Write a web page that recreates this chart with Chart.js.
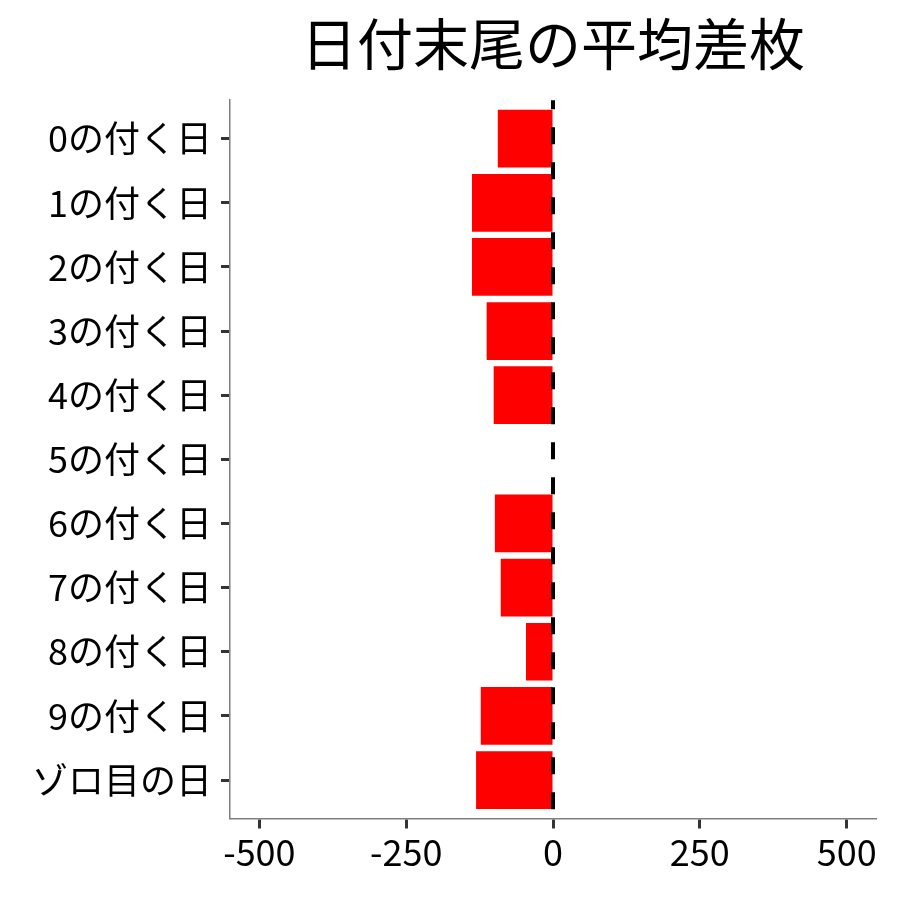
<!DOCTYPE html>
<html>
<head>
<meta charset="utf-8">
<script src="https://cdn.jsdelivr.net/npm/chart.js@4.4.0/dist/chart.umd.min.js"></script>
<style>
  html, body { margin: 0; padding: 0; background: #ffffff; }
  #wrap { width: 900px; height: 900px; }
</style>
</head>
<body>
<div id="wrap"><canvas id="chart" width="900" height="900"></canvas></div>
<script>
// Data
var titleText = '日付末尾の平均差枚';
var categories = ['0の付く日', '1の付く日', '2の付く日', '3の付く日', '4の付く日',
                  '5の付く日', '6の付く日', '7の付く日', '8の付く日', '9の付く日', 'ゾロ目の日'];
var diffValues = [-94, -138, -138, -113, -101, null, -99, -89, -46, -123, -131];
var xTicks = [-500, -250, 0, 250, 500];

var fontFamily = '"Noto Sans CJK JP", "Noto Sans", sans-serif';

// one point per category, y is the category position
var points = categories.map(function(c, i) {
  return { x: diffValues[i], y: i };
});

// dashed reference line at x = 0, drawn over the bars
var zeroLine = {
  id: 'zeroLine',
  afterDatasetsDraw: function(chart) {
    var ctx = chart.ctx;
    var area = chart.chartArea;
    var x = chart.scales.x.getPixelForValue(0);
    ctx.save();
    ctx.strokeStyle = '#000000';
    ctx.lineWidth = 4;
    ctx.lineCap = 'butt';
    ctx.setLineDash([17, 18]);
    ctx.lineDashOffset = 8;
    ctx.beginPath();
    ctx.moveTo(x, area.top);
    ctx.lineTo(x, area.bottom);
    ctx.stroke();
    ctx.restore();
  }
};

var ctx = document.getElementById('chart').getContext('2d');
new Chart(ctx, {
  type: 'bar',
  data: {
    datasets: [{
      data: points,
      backgroundColor: '#ff0000',
      borderWidth: 0,
      categoryPercentage: 0.9,
      barPercentage: 1.0
    }]
  },
  options: {
    indexAxis: 'y',
    responsive: false,
    animation: false,
    layout: { padding: { left: 0, right: 24, top: 0, bottom: 0 } },
    plugins: {
      legend: { display: false },
      tooltip: { enabled: false },
      title: {
        display: true,
        text: titleText,
        fullSize: false,
        color: '#000000',
        font: { family: fontFamily, size: 56, weight: 'normal', lineHeight: 1.2 },
        padding: { top: 10, bottom: 23 }
      }
    },
    scales: {
      x: {
        type: 'linear',
        min: -550,
        max: 550,
        afterFit: function(scale) { scale.height = 81.5; },
        afterBuildTicks: function(scale) {
          scale.ticks = xTicks.map(function(v) { return { value: v }; });
        },
        ticks: {
          color: '#000000',
          font: { family: fontFamily, size: 36 },
          padding: 2,
          maxRotation: 0,
          autoSkip: false
        },
        grid: {
          drawOnChartArea: false,
          drawTicks: true,
          tickLength: 10,
          tickWidth: 3,
          tickColor: '#333333'
        },
        border: { display: true, color: '#7f7f7f', width: 1.5 }
      },
      y: {
        type: 'linear',
        reverse: true,
        offset: false,
        min: -0.6,
        max: 10.6,
        afterFit: function(scale) { scale.width = 230; },
        afterBuildTicks: function(scale) {
          scale.ticks = categories.map(function(c, i) { return { value: i }; });
        },
        ticks: {
          color: '#000000',
          font: { family: fontFamily, size: 36 },
          padding: 9,
          autoSkip: false,
          callback: function(value) { return categories[value]; }
        },
        grid: {
          offset: false,
          drawOnChartArea: false,
          drawTicks: true,
          tickLength: 9,
          tickWidth: 3,
          tickColor: '#333333'
        },
        border: { display: true, color: '#7f7f7f', width: 1.5 }
      }
    }
  },
  plugins: [zeroLine]
});
</script>
</body>
</html>
